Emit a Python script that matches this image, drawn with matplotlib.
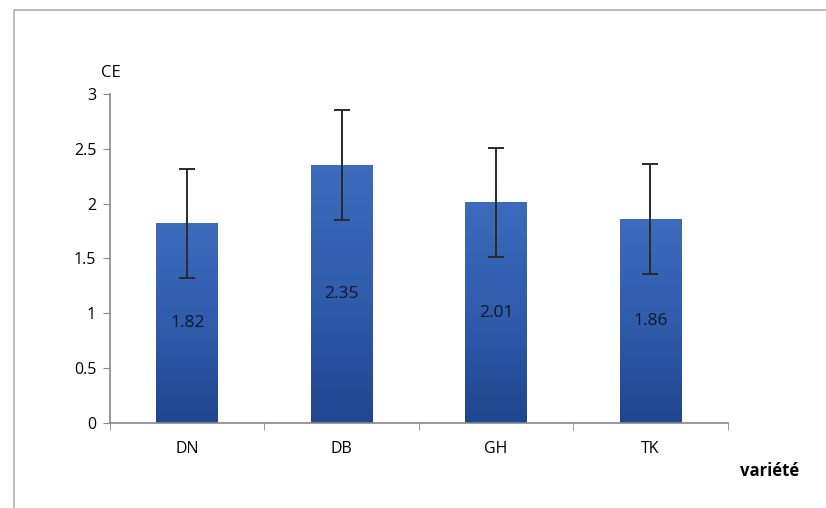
import numpy as np
import matplotlib
matplotlib.use('Agg')
import matplotlib.pyplot as plt
from matplotlib.patches import Rectangle
from matplotlib.colors import LinearSegmentedColormap

plt.rcParams['font.family'] = ['Open Sans', 'DejaVu Sans']

# --- Data --- #
varieties = ['DN', 'DB', 'GH', 'TK']
ce_values = [1.82, 2.35, 2.01, 1.86]
ce_errors = [0.5, 0.5, 0.5, 0.5]
value_labels = ['1.82', '2.35', '2.01', '1.86']
y_ticks = [0, 0.5, 1, 1.5, 2, 2.5, 3]
y_tick_labels = ['0', '0.5', '1', '1.5', '2', '2.5', '3']

fig = plt.figure(figsize=(8.26, 5.08), dpi=100)
ax = fig.add_axes([0.1332, 0.1673, 0.7478, 0.6477])

# outer chart frame
fig.patches.append(Rectangle((0.017, -0.01), 1.0, 0.99, transform=fig.transFigure,
                             fill=False, edgecolor='#b0b0b0', linewidth=1.2))

x = np.arange(len(varieties))
width = 0.4
bars = ax.bar(x, ce_values, width=width, color='#2f5ca8', zorder=2)

# vertical gradient on bars: dark at bottom, lighter on top
cmap = LinearSegmentedColormap.from_list('bar', ['#1f4690', '#2f5cab', '#3d6cbd'])
grad = np.linspace(0, 1, 256).reshape(-1, 1)
for b in bars:
    ax.imshow(grad, extent=(b.get_x(), b.get_x() + b.get_width(), 0, b.get_height()),
              origin='lower', cmap=cmap, aspect='auto', zorder=2.5)

ax.errorbar(x, ce_values, yerr=ce_errors, fmt='none', ecolor='#2a2a2a',
            elinewidth=1.4, capsize=6, capthick=1.4, zorder=3)

for xi, v, lab in zip(x, ce_values, value_labels):
    ax.text(xi, v / 2, lab, ha='center', va='center', fontsize=12.5, color='#141828', zorder=4)

ax.set_xlim(-0.5, len(varieties) - 0.5)
ax.set_ylim(0, 3)
ax.set_yticks(y_ticks)
ax.set_yticklabels(y_tick_labels, fontsize=11.5)
ax.set_xticks(x)
ax.set_xticklabels(varieties, fontsize=11.5)
ax.set_xticks(np.arange(len(varieties) + 1) - 0.5, minor=True)
ax.tick_params(axis='x', which='major', length=0, pad=13)
ax.tick_params(axis='x', which='minor', length=5, color='#888888')
ax.tick_params(axis='y', length=5, color='#888888', pad=5)

for s in ['top', 'right']:
    ax.spines[s].set_visible(False)
for s in ['left', 'bottom']:
    ax.spines[s].set_color('#888888')
    ax.spines[s].set_linewidth(1.2)

fig.text(0.122, 0.857, 'CE', fontsize=12, ha='left', va='center')
fig.text(0.932, 0.073, 'variété', fontsize=12, fontweight='bold', ha='center', va='center')

fig.savefig('out.png', dpi=100)
